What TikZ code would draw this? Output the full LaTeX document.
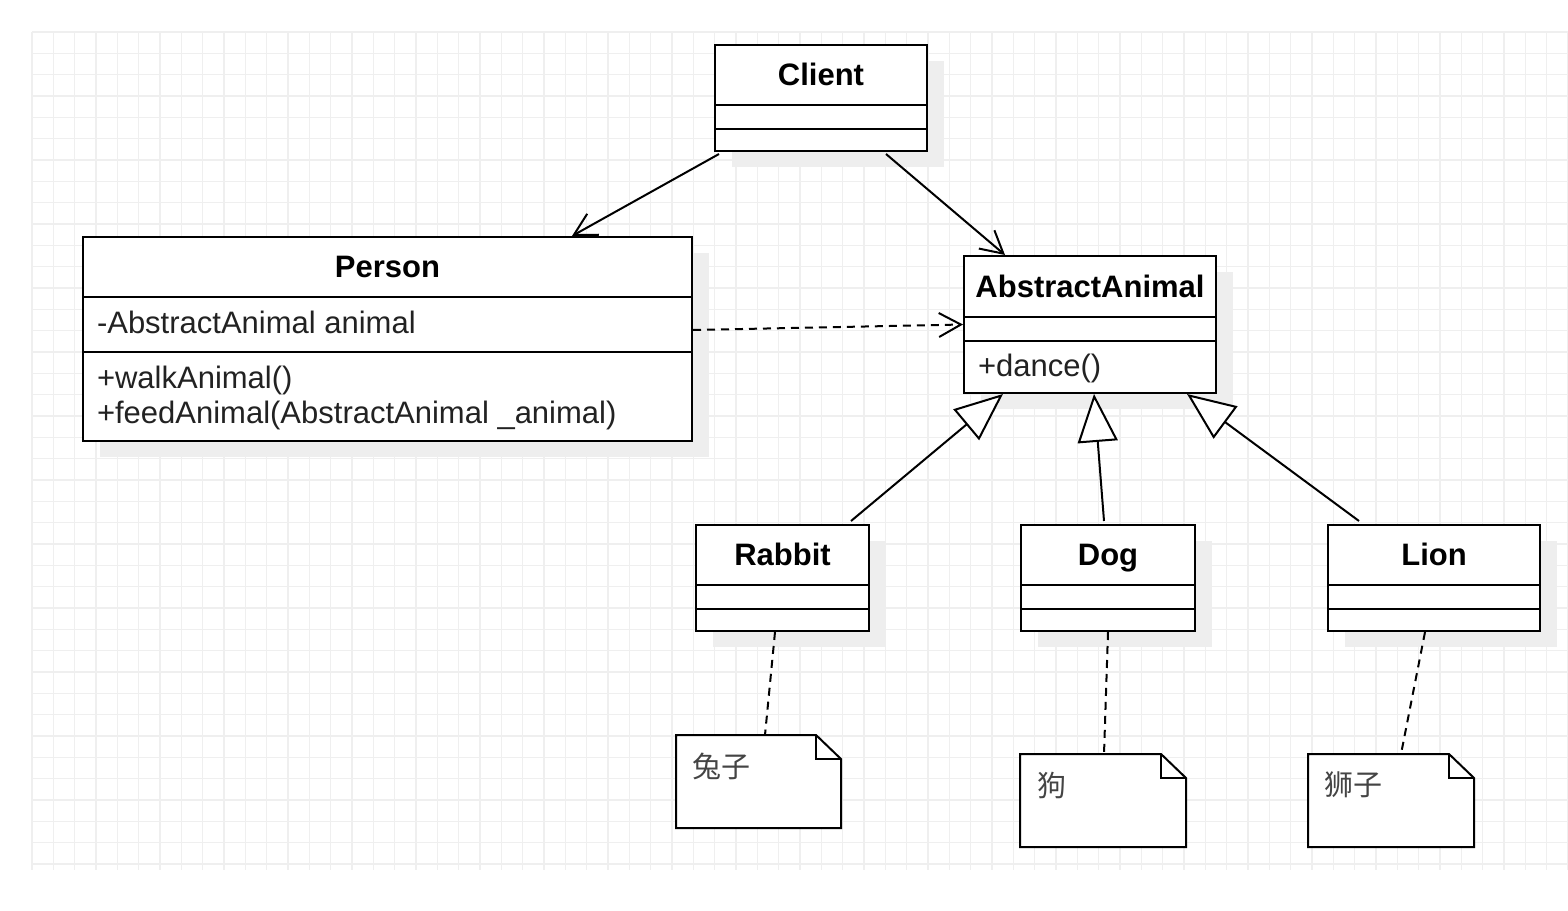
\documentclass[tikz,border=0pt]{standalone}
\usepackage{fontspec}
\setmainfont{Liberation Sans}
\newfontfamily\cjk{Noto Sans CJK SC}
\usetikzlibrary{arrows.meta,shadows}
\definecolor{gridc}{HTML}{EFEFEF}
\definecolor{shadowc}{HTML}{EEEEEE}
\definecolor{txtc}{HTML}{222222}
\definecolor{notec}{HTML}{444444}
\begin{document}
\begin{tikzpicture}[x=1pt,y=-1pt,line width=2pt,
  cls/.style={draw,fill=white,rectangle,inner sep=0pt,
    drop shadow={shadow xshift=17pt,shadow yshift=-16pt,fill=shadowc,opacity=1}},
  title/.style={font=\fontsize{31}{36}\selectfont\bfseries,text=black,inner sep=0pt,text height=22pt,text depth=6pt},
  member/.style={font=\fontsize{31}{36}\selectfont,text=txtc,anchor=west,inner sep=0pt,text height=22pt,text depth=6pt},
  notebox/.style={rectangle,inner sep=0pt},
  notetext/.style={font=\fontsize{29}{34}\selectfont\cjk,text=notec,anchor=west,inner sep=0pt},
  assoc/.style={-{Straight Barb[length=22pt,width=24pt]}},
  depend/.style={dash pattern=on 8pt off 6pt,-{Straight Barb[length=22pt,width=24pt]}},
  inherit/.style={-{Triangle[length=48pt,width=40pt,fill=white]}},
  notelink/.style={dash pattern=on 8pt off 6pt}]
\useasboundingbox (0,0) rectangle (1568,910);
% grid
\foreach \i in {0,...,72} \draw[gridc,line width=1.5pt] ({32+\i*21.3333},32) -- ({32+\i*21.3333},870);
\foreach \j in {0,...,39} \draw[gridc,line width=1.5pt] (32,{32+\j*21.3333}) -- (1568,{32+\j*21.3333});

% classes
\node[cls,minimum width=212pt,minimum height=106pt] (client) at (821,98) {};
\node[title] (clientT) at (821,77) {Client};
\draw (715,105) -- (927,105) (715,129) -- (927,129);

\node[cls,minimum width=609pt,minimum height=204pt] (person) at (387.5,339) {};
\node[title] (personT) at (387.5,269) {Person};
\draw (83,297) -- (692,297) (83,352) -- (692,352);
\node[member] (personA) at (96,325) {-AbstractAnimal animal};
\node[member] (personM1) at (96,380) {+walkAnimal()};
\node[member] (personM2) at (96,415) {+feedAnimal(AbstractAnimal \_animal)};

\node[cls,minimum width=252pt,minimum height=137pt] (animal) at (1090,324.5) {};
\node[title] (animalT) at (1090,289) {AbstractAnimal};
\draw (964,317) -- (1216,317) (964,341) -- (1216,341);
\node[member] (animalM) at (977,368) {+dance()};

\node[cls,minimum width=173pt,minimum height=106pt] (rabbit) at (782.5,578) {};
\node[title] (rabbitT) at (782.5,557) {Rabbit};
\draw (696,585) -- (869,585) (696,609) -- (869,609);

\node[cls,minimum width=174pt,minimum height=106pt] (dog) at (1108,578) {};
\node[title] (dogT) at (1108,557) {Dog};
\draw (1021,585) -- (1195,585) (1021,609) -- (1195,609);

\node[cls,minimum width=212pt,minimum height=106pt] (lion) at (1434,578) {};
\node[title] (lionT) at (1434,557) {Lion};
\draw (1328,585) -- (1540,585) (1328,609) -- (1540,609);

% notes
\node[notebox,minimum width=163pt,minimum height=91pt] (rabbitN) at (758.5,781.5) {};
\node[notebox,minimum width=164pt,minimum height=91pt] (dogN) at (1103,800.5) {};
\node[notebox,minimum width=164pt,minimum height=91pt] (lionN) at (1391,800.5) {};
\foreach \n in {rabbitN,dogN,lionN}{
  \draw[fill=white,line join=miter] (\n.north west) -- ([xshift=-25pt]\n.north east) -- ([yshift=-24pt]\n.north east) -- (\n.south east) -- (\n.south west) -- cycle;
  \draw[line join=miter] ([xshift=-25pt]\n.north east) -- ([xshift=-25pt,yshift=-24pt]\n.north east) -- ([yshift=-24pt]\n.north east);
}
\node[notetext] (rabbitNT) at (691,766) {兔子};
\node[notetext] (dogNT) at (1036,785) {狗};
\node[notetext] (lionNT) at (1323,785) {狮子};

% connectors
\draw[assoc] ([xshift=5pt,yshift=-2pt]client.south west) -- ([xshift=490pt]person.north west);
\draw[assoc] ([xshift=-42pt,yshift=-2pt]client.south east) -- ([xshift=42pt]animal.north west);
\draw[depend] ([yshift=9pt]person.east) -- (animal.west);
\draw[inherit] ([xshift=-19pt,yshift=3pt]rabbit.north east) -- ([xshift=40pt]animal.south west);
\draw[inherit] ([xshift=-4pt,yshift=3pt]dog.north) -- ([xshift=4pt]animal.south);
\draw[inherit] ([xshift=32pt,yshift=3pt]lion.north west) -- ([xshift=-30pt]animal.south east);
\draw[notelink] ([xshift=-7.5pt]rabbit.south) -- ([xshift=6.5pt]rabbitN.north);
\draw[notelink] (dog.south) -- ([xshift=1pt]dogN.north);
\draw[notelink] ([xshift=-9pt]lion.south) -- ([xshift=10pt]lionN.north);
\end{tikzpicture}
\end{document}
